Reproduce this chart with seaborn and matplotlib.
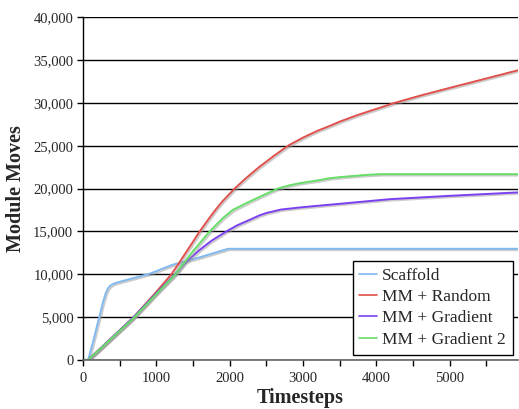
import matplotlib
matplotlib.use("Agg")
import matplotlib.pyplot as plt
import matplotlib.patheffects as pe
from matplotlib.ticker import FuncFormatter, MultipleLocator
import seaborn as sns
import pandas as pd

series_names = ["Scaffold", "MM + Random", "MM + Gradient", "MM + Gradient 2"]
colors = ["#80b8f0", "#e0504c", "#7a40f0", "#66dd66"]

scaffold_t = [0, 70, 130, 178, 230, 269, 310, 340, 370, 400, 450, 909, 1223, 1600, 1977, 5930]
scaffold_v = [0, 0, 1900, 3530, 5300, 6640, 7800, 8350, 8650, 8820, 9000, 10060, 11110, 12000, 12970, 12970]

random_t = [0, 70, 678, 1000, 1100, 1205, 1300, 1400, 1500, 1591, 1700, 1800, 1900, 2068, 2200, 2400, 2600,
            2796, 3000, 3200, 3364, 3500, 3750, 4000, 4250, 4600, 5000, 5500, 5930]
random_v = [0, 0, 4890, 7950, 8950, 10000, 11200, 12500, 13800, 15000, 16300, 17450, 18500, 20000, 21050, 22500,
            23800, 25000, 25950, 26750, 27310, 27810, 28600, 29300, 30000, 30850, 31750, 32850, 33800]

gradient_t = [0, 70, 678, 1000, 1250, 1400, 1591, 1750, 1955, 2100, 2273, 2400, 2500, 2700, 2955, 3200, 3500,
              4182, 5000, 5930]
gradient_v = [0, 0, 4890, 7800, 9950, 11400, 12850, 13900, 15000, 15700, 16350, 16850, 17150, 17550, 17790,
              17990, 18220, 18760, 19150, 19550]

gradient2_t = [0, 70, 678, 1000, 1250, 1500, 1727, 1900, 2045, 2273, 2500, 2659, 2800, 2955, 3200, 3364, 3500,
               3800, 4045, 5930]
gradient2_v = [0, 0, 4800, 7700, 9900, 12700, 15000, 16500, 17520, 18490, 19400, 20000, 20350, 20630, 20950,
               21210, 21330, 21550, 21680, 21680]

frames = []
for name, t, v in [(series_names[0], scaffold_t, scaffold_v),
                   (series_names[1], random_t, random_v),
                   (series_names[2], gradient_t, gradient_v),
                   (series_names[3], gradient2_t, gradient2_v)]:
    frames.append(pd.DataFrame({"Timesteps": t, "Module Moves": v, "Series": name}))
df = pd.concat(frames, ignore_index=True)

sns.set_style("white")
plt.rcParams["font.family"] = ["Liberation Serif", "DejaVu Serif"]

fig = plt.figure(figsize=(5.19, 4.09), dpi=100)
ax = fig.add_axes([0.160, 0.120, 0.838, 0.838])

sns.lineplot(data=df, x="Timesteps", y="Module Moves", hue="Series",
             hue_order=series_names, palette=colors, linewidth=1.4,
             sort=False, estimator=None, ax=ax)

for line in ax.get_lines():
    line.set_path_effects([pe.SimpleLineShadow(offset=(1, -1), shadow_color="#999999", alpha=0.5),
                           pe.Normal()])

ax.set_xlim(0, 5930)
ax.set_ylim(0, 40000)
ax.yaxis.set_major_locator(MultipleLocator(5000))
ax.xaxis.set_major_locator(MultipleLocator(1000))
ax.xaxis.set_minor_locator(MultipleLocator(500))
ax.yaxis.set_major_formatter(FuncFormatter(lambda v, p: f"{int(v):,}"))
ax.grid(axis="y", color="black", linewidth=1.0)
ax.set_axisbelow(True)
for s in ["top", "right"]:
    ax.spines[s].set_visible(False)
ax.spines["left"].set_color("black")
ax.spines["bottom"].set_color("#666666")
ax.spines["left"].set_linewidth(1.0)
ax.spines["bottom"].set_linewidth(1.2)
ax.tick_params(axis="both", which="both", direction="out", length=4, width=1,
               color="black", labelsize=10.5, bottom=True, left=True)
ax.tick_params(axis="x", which="minor", length=4)
ax.tick_params(axis="x", pad=5)
ax.tick_params(axis="y", pad=3)

ax.set_xlabel("Timesteps", fontsize=14.5, fontweight="bold", labelpad=2)
ax.set_ylabel("Module Moves", fontsize=14.5, fontweight="bold", labelpad=5)

leg = ax.legend(loc="lower right", bbox_to_anchor=(1.0, 0.0), fontsize=12.5,
                frameon=True, fancybox=False, edgecolor="black",
                handlelength=1.0, handletextpad=0.3, borderpad=0.4,
                labelspacing=0.3, borderaxespad=0.3)
leg.get_frame().set_linewidth(1.0)
leg.get_frame().set_alpha(1)
for h in leg.get_lines():
    h.set_linewidth(1.2)
    h.set_path_effects([])

fig.savefig("out.png", dpi=100)
